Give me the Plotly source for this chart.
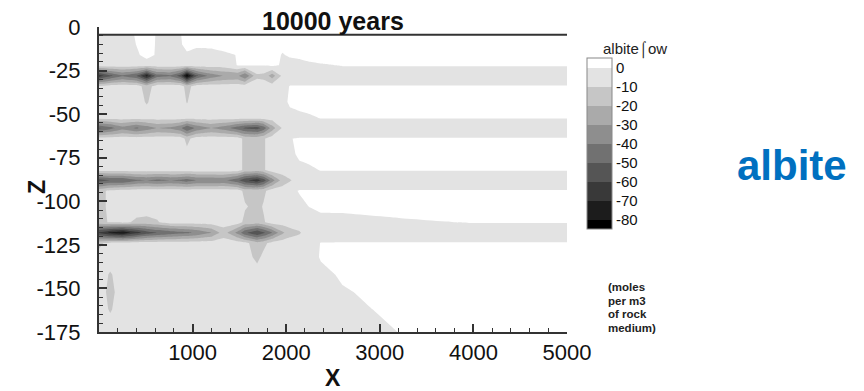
import plotly.graph_objects as go

# Grid node positions (distance X, depth Z)
x_nodes = [0, 120, 250, 400, 510, 620, 760, 870, 940, 1040, 1200, 1330, 1480, 1560,
           1690, 1760, 1850, 1960, 2040, 2140, 2250, 2370, 2600, 3200, 4000, 5000]
z_nodes = [-4.5, -10, -16, -22, -28, -34, -43, -52, -58, -64, -73, -82, -88, -94,
           -103, -112, -118, -124, -132, -142, -152, -162, -175]

# Albite change (moles per m3 of rock medium), one row per depth node
albite = [
    [-5, -5, -5, 1, 5, -1, -5, -0.5, 4, 5, 5, 5, 5, 5, 5, 5, 5, 5, 5, 5, 5, 5, 5, 5, 5, 5],
    [-5, -5, -5, 0.2, 4, -1, -5, -1, 3, 2, 2, 3, 5, 5, 5, 5, 5, 2, 4, 5, 5, 5, 5, 5, 5, 5],
    [-5, -5, -5, -1.5, 3, -1, -5, -5, -1.5, -4, -3.2, -1.6, 0.3, 3, 3, 3, 3, -0.5, 1, 2, 4, 5, 5, 5, 5, 5],
    [-5, -5, -5, -5, -5, -5, -5, -5, -5, -5, -5, -5, 0.3, 0.3, 0.3, 0.3, 2, -1, -3, -3, -2, -1, 0.5, 0.5, 0.5, 0.5],
    [-66, -52, -42, -50, -74, -45, -42, -55, -85, -52, -36, -30, -28, -40, -12, -13, -25, -8, -5.5, -5.5, -5.5, -5.5, -5.5, -5.5, -5.5, -5.5],
    [-8, -5, -5, -5, -15, -5, -5, -5, -14, -5, -5, -5, -5, -5, -5, -5, -5, -4, 0.5, 0.5, 0.5, 0.5, 0.5, 0.5, 0.5, 0.5],
    [-5, -5, -5, -5, -11, -5, -5, -5, -10.5, -5, -5, -5, -5, -5, -5, -5, -5, -4, 2, 4, 5, 5, 5, 5, 5, 5],
    [-5, -5, -5, -5, -5, -5, -5, -5, -5, -5, -5, -5, -5, -5, -5, -5, -5, -5, -4, -3, -1.5, 0.5, 0.5, 0.5, 0.5, 0.5],
    [-52, -44, -34, -42, -36, -30, -32, -38, -50, -38, -30, -35, -46, -52, -55, -46, -25, -9, -5.5, -5.5, -5.5, -5.5, -5.5, -5.5, -5.5, -5.5],
    [-5, -5, -5, -5, -5, -5, -5, -5, -13, -5, -5, -5, -5, -13, -14, -11, -5, -4, -0.2, 0.5, 0.5, 0.5, 0.5, 0.5, 0.5, 0.5],
    [-5, -5, -5, -5, -5, -5, -5, -5, -7, -5, -5, -5, -5, -13, -14, -11, -5, -4, -3, 2, 4, 5, 5, 5, 5, 5],
    [-5, -5, -5, -5, -5, -5, -5, -5, -5, -5, -5, -5, -5, -13, -14, -11, -5, -5, -4, -3, -2, 0.5, 0.5, 0.5, 0.5, 0.5],
    [-55, -50, -50, -42, -40, -43, -40, -42, -45, -40, -40, -38, -48, -58, -66, -56, -35, -16, -11, -5.5, -5.5, -5.5, -5.5, -5.5, -5.5, -5.5],
    [-13, -8, -5, -5, -5, -5, -5, -5, -5, -5, -5, -5, -5, -13, -13, -12, -5, -5, -2, 0.5, 0.5, 0.5, 0.5, 0.5, 0.5, 0.5],
    [-13, -8, -5, -5, -5, -5, -5, -5, -5, -5, -5, -5, -5, -9, -13, -9, -5, -5, -5, -2, 0.2, 2, 2.5, 4, 5, 5],
    [-13, -9, -7, -12, -13, -11, -5, -5, -5, -5, -5, -5, -5, -13, -14, -11, -5, -5, -5, -5, -4, -3, -3.5, -1.5, 0.5, 0.5],
    [-62, -72, -78, -64, -55, -50, -46, -43, -42, -38, -30, -15, -33, -48, -60, -52, -40, -22, -14, -11, -5.5, -5.5, -5.5, -5.5, -5.5, -5.5],
    [-12, -7, -6, -5, -5, -5, -5, -5, -5, -5, -5, -5, -5, -7, -16, -13, -6, -5, -5, -5, -4, 0.3, 0.5, 0.5, 0.5, 0.5],
    [-7, -5, -5, -5, -5, -5, -5, -5, -5, -5, -5, -5, -5, -5, -13, -7, -5, -5, -5, -5, -5, 1, 4, 5, 5, 5],
    [-5, -11, -5, -5, -5, -5, -5, -5, -5, -5, -5, -5, -5, -5, -5, -5, -5, -5, -5, -5, -5, -3, 1.5, 5, 5, 5],
    [-5, -13, -5, -5, -5, -5, -5, -5, -5, -5, -5, -5, -5, -5, -5, -5, -5, -5, -5, -5, -5, -5, -1, 4, 5, 5],
    [-5, -11, -5, -5, -5, -5, -5, -5, -5, -5, -5, -5, -5, -5, -5, -5, -5, -5, -5, -5, -5, -5, -3.5, 3, 5, 5],
    [-5, -5, -5, -5, -5, -5, -5, -5, -5, -5, -5, -5, -5, -5, -5, -5, -5, -5, -5, -5, -5, -5, -5, 0.1, 5, 5],
]

# Contour levels and the grey shade of each band (lowest band first)
level_start, level_end, level_step = -80, 0, 10
band_colors = ["#000000", "#1c1c1c", "#393939", "#555555", "#717171",
               "#8e8e8e", "#aaaaaa", "#c6c6c6", "#e3e3e3", "#ffffff"]
legend_ticks = [0, -10, -20, -30, -40, -50, -60, -70, -80]

x_ticks = [1000, 2000, 3000, 4000, 5000]
z_ticks = [0, -25, -50, -75, -100, -125, -150, -175]

title_text = "10000 years"
legend_title = "albite\u2320ow"
mineral_label = "albite"
unit_lines = ["(moles", "per m3", "of rock", "medium)"]

FONT = "Liberation Sans, Arial, sans-serif"
AXIS_COLOR = "#333333"
TEXT_COLOR = "#111111"

# Plot area in pixels
PLOT_TOP, PLOT_BOTTOM, PLOT_LEFT, PLOT_RIGHT = 27, 332, 99, 567
W, H = 864, 391


def py_paper(py):
    return (PLOT_BOTTOM - py) / (PLOT_BOTTOM - PLOT_TOP)


def px_paper(px):
    return (px - PLOT_LEFT) / (PLOT_RIGHT - PLOT_LEFT)


def labels(values):
    return [str(v) for v in values]


colorscale = [[i / (len(band_colors) - 1), c] for i, c in enumerate(band_colors)]

fig = go.Figure()
fig.add_trace(go.Contour(
    x=x_nodes, y=z_nodes, z=albite,
    autocontour=False,
    contours=dict(start=level_start, end=level_end, size=level_step,
                  coloring="fill", showlines=False),
    line=dict(width=0, smoothing=0),
    colorscale=colorscale,
    hoverinfo="skip",
    colorbar=dict(
        thickness=25, thicknessmode="pixels",
        len=171, lenmode="pixels",
        x=px_paper(587), xref="paper", xanchor="left", xpad=0,
        y=py_paper(143.5), yref="paper", yanchor="middle", ypad=0,
        tickmode="array", tickvals=legend_ticks, ticktext=labels(legend_ticks), ticks="",
        tickfont=dict(family=FONT, size=15, color=TEXT_COLOR),
        outlinewidth=1, outlinecolor="#888888",
    ),
))

# Upper boundary of the model domain
fig.add_trace(go.Scatter(
    x=[x_nodes[0], x_nodes[-1]], y=[z_nodes[0], z_nodes[0]],
    mode="lines", line=dict(color=AXIS_COLOR, width=2),
    showlegend=False, hoverinfo="skip",
))

annotations = [
    dict(text=f"<b>{title_text}</b>", x=0.5, y=py_paper(21),
         xanchor="center", yanchor="middle",
         font=dict(family=FONT, size=25, color=TEXT_COLOR)),
    dict(text="<b>X</b>", x=px_paper(333), y=py_paper(378),
         xanchor="center", yanchor="middle",
         font=dict(family=FONT, size=23, color=TEXT_COLOR)),
    dict(text="<b>Z</b>", x=px_paper(37), y=py_paper(187), textangle=-90,
         xanchor="center", yanchor="middle",
         font=dict(family=FONT, size=23, color=TEXT_COLOR)),
    dict(text=f"<b>{mineral_label}</b>", x=px_paper(792), y=py_paper(165),
         xanchor="center", yanchor="middle",
         font=dict(family=FONT, size=42, color="#0070C0")),
    dict(text=legend_title, x=px_paper(601), y=py_paper(50),
         xanchor="left", yanchor="middle",
         font=dict(family=FONT, size=15, color="#222222")),
]
for i, line in enumerate(unit_lines):
    annotations.append(dict(
        text=f"<b>{line}</b>", x=px_paper(606), y=py_paper(287 + 13.5 * i),
        xanchor="left", yanchor="middle",
        font=dict(family=FONT, size=11.5, color="#222222")))
for a in annotations:
    a.update(xref="paper", yref="paper", showarrow=False)

axis_common = dict(
    showline=True, linecolor=AXIS_COLOR, linewidth=2,
    ticks="inside", ticklen=8, tickwidth=1.5, tickcolor=AXIS_COLOR,
    showgrid=False, zeroline=False, automargin=False,
    tickfont=dict(family=FONT, size=22, color=TEXT_COLOR),
)

fig.update_layout(
    width=W, height=H,
    margin=dict(l=PLOT_LEFT, r=W - PLOT_RIGHT, t=PLOT_TOP, b=H - PLOT_BOTTOM,
                autoexpand=False),
    paper_bgcolor="white", plot_bgcolor="white",
    showlegend=False,
    annotations=annotations,
    xaxis=dict(
        range=[0, 5000], tickmode="array", tickvals=x_ticks, ticktext=labels(x_ticks),
        minor=dict(ticks="inside", ticklen=4, tickwidth=1, tickcolor=AXIS_COLOR,
                   tickmode="linear", tick0=0, dtick=200),
        ticklabelstandoff=0,
        **axis_common,
    ),
    yaxis=dict(
        range=[-175, 0], tickmode="array", tickvals=z_ticks, ticktext=labels(z_ticks),
        minor=dict(ticks="inside", ticklen=4, tickwidth=1, tickcolor=AXIS_COLOR,
                   tickmode="linear", tick0=0, dtick=5),
        ticklabelstandoff=12,
        **axis_common,
    ),
)

fig.write_html("out.html")
